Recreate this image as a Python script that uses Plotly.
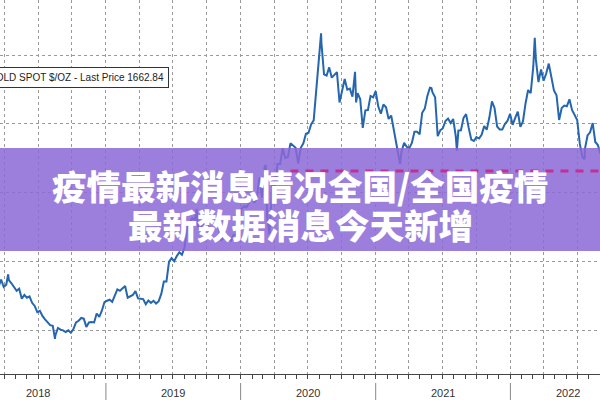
import pandas as pd
import plotly.graph_objects as go

# Weekly (Friday) gold spot closes, USD/oz
gold_2018 = [1325, 1347, 1325, 1332, 1345, 1336, 1323, 1314, 1320, 1291, 1302, 1294, 1298, 1279,
             1270, 1252, 1256, 1241, 1231, 1223, 1214, 1212, 1184, 1206, 1201, 1199, 1194, 1199,
             1192, 1203, 1222, 1227, 1235, 1233, 1209, 1222, 1223, 1222, 1248, 1238, 1256, 1281]
gold_2019 = [1285, 1288, 1282, 1303, 1318, 1314, 1322, 1328, 1294, 1298, 1302, 1313, 1292, 1291,
             1290, 1275, 1286, 1279, 1285, 1277, 1284, 1305, 1341, 1341, 1399, 1409, 1400, 1415,
             1426, 1419, 1440, 1497, 1513, 1526, 1520, 1507, 1488, 1517, 1497, 1505, 1489, 1490,
             1505, 1514, 1459, 1468, 1462, 1464, 1460, 1476, 1478, 1511]
gold_2020 = [1552, 1560, 1557, 1571, 1589, 1570, 1584, 1643, 1585, 1674, 1530, 1498, 1624, 1620,
             1683, 1683, 1729, 1700, 1703, 1743, 1735, 1730, 1684, 1730, 1743, 1771, 1774, 1798,
             1810, 1902, 1975, 2035, 1944, 1940, 1964, 1934, 1941, 1950, 1862, 1900, 1930, 1899,
             1902, 1879, 1951, 1889, 1872, 1788, 1839, 1840, 1881, 1877]
gold_2021 = [1895, 1850, 1829, 1856, 1848, 1814, 1824, 1784, 1734, 1699, 1719, 1745, 1733, 1729,
             1744, 1777, 1777, 1769, 1832, 1844, 1881, 1905, 1891, 1877, 1764, 1781, 1787, 1808,
             1815, 1802, 1814, 1763, 1780, 1781, 1817, 1828, 1788, 1754, 1750, 1761, 1757, 1768,
             1793, 1783, 1818, 1865, 1846, 1792, 1783, 1783, 1799, 1808, 1829]
gold_2022 = [1797, 1817, 1835, 1791, 1807, 1859, 1898, 1889, 1966, 1988, 1921, 1958, 1925, 1946,
             1975, 1932, 1897, 1883, 1811, 1846, 1853, 1851, 1871, 1840, 1827, 1811, 1742, 1703,
             1727, 1766, 1775, 1802, 1747, 1738, 1712]
weekly_values = gold_2018 + gold_2019 + gold_2020 + gold_2021 + gold_2022
weekly_dates = pd.date_range("2018-03-16", periods=len(weekly_values), freq="W-FRI")

# Notable intra-week extremes visible on the chart
extreme_dates = ["2018-04-11", "2018-08-16", "2019-09-04", "2020-03-09", "2020-03-19",
                 "2020-08-06", "2020-11-09", "2021-03-08", "2021-06-01", "2021-08-09",
                 "2022-03-08", "2022-07-21"]
extreme_values = [1362, 1174, 1552, 1680, 1478, 2063, 1862, 1683, 1904, 1722, 2050, 1697]

series = pd.concat([
    pd.Series(weekly_values, index=weekly_dates),
    pd.Series(extreme_values, index=pd.to_datetime(extreme_dates)),
]).sort_index()

last_price = 1662.84
price_label = "GOLD SPOT $/OZ - Last Price 1662.84"
year_labels = ["2018", "2019", "2020", "2021", "2022"]
year_label_dates = ["2018-07-01", "2019-07-02", "2020-07-02", "2021-07-02", "2022-06-05"]
year_bounds = ["2019-01-01", "2020-01-01", "2021-01-01", "2022-01-01"]
y_grid = [1200, 1400, 1600, 1800, 2000]
banner_line1 = "疫情最新消息情况全国/全国疫情"
banner_line2 = "最新数据消息今天新增"

PLOT_H = 374.0

fig = go.Figure()
fig.add_trace(go.Scatter(
    x=series.index, y=series.values, mode="lines",
    line=dict(color="#2566b0", width=2), hoverinfo="skip", showlegend=False,
))

fig.update_layout(
    width=600, height=400, autosize=False,
    margin=dict(l=0, r=0, t=0, b=26),
    paper_bgcolor="white", plot_bgcolor="white",
    showlegend=False,
    xaxis=dict(
        type="date", range=["2018-03-20", "2022-08-31T19:00"],
        tick0="2018-01-01", dtick="M3",
        showgrid=True, gridcolor="#9a9a9a", griddash="dot", gridwidth=1,
        ticks="outside", ticklen=4, tickcolor="#444",
        showline=True, linecolor="#444", linewidth=1,
        showticklabels=False, zeroline=False,
        minor=dict(dtick="M1", ticks="outside", ticklen=4, tickcolor="#444", showgrid=False),
    ),
    yaxis=dict(
        range=[1072, 2160], tickvals=y_grid, showticklabels=False,
        showgrid=True, gridcolor="#9a9a9a", griddash="dot", gridwidth=1,
        zeroline=False, showline=False,
    ),
)

shapes = []
for d in year_bounds:
    shapes.append(dict(type="line", xref="x", yref="paper", x0=d, x1=d,
                       y0=-9 / PLOT_H, y1=-27 / PLOT_H, line=dict(color="#888", width=1)))
# translucent purple banner
shapes.append(dict(type="rect", xref="paper", yref="paper", x0=0, x1=1,
                   y0=1 - 251 / PLOT_H, y1=1 - 148 / PLOT_H,
                   fillcolor="rgba(140,105,214,0.86)", line=dict(width=0), layer="above"))
# last price dashed line
shapes.append(dict(type="line", xref="x", yref="y", x0="2020-05-15", x1="2022-12-31",
                   y0=last_price, y1=last_price,
                   line=dict(color="#be3296", width=3, dash="8px,7px"), layer="above"))
fig.update_layout(shapes=shapes)

annotations = []
for lbl, d in zip(year_labels, year_label_dates):
    annotations.append(dict(x=d, y=0, xref="x", yref="paper", text=lbl, showarrow=False,
                            yshift=-19, yanchor="middle", xanchor="center",
                            font=dict(family="Liberation Sans", size=11, color="#333")))
annotations.append(dict(x=169 / 600, y=1 - 78 / PLOT_H, xref="paper", yref="paper",
                        text=price_label, showarrow=False, xanchor="right", yanchor="middle",
                        bgcolor="white", bordercolor="#333", borderwidth=1, borderpad=4,
                        font=dict(family="Liberation Sans", size=10, color="#222")))
for txt, ypx in [(banner_line1, 185), (banner_line2, 224)]:
    annotations.append(dict(x=0.5, y=1 - ypx / PLOT_H, xref="paper", yref="paper",
                            text=txt, showarrow=False, xanchor="center", yanchor="middle",
                            font=dict(family="Noto Sans CJK SC", size=34.5, color="white",
                                      weight=900)))
fig.update_layout(annotations=annotations)

fig.write_html("out.html", config={"displayModeBar": False},
               post_script="document.body.style.margin='0';")
